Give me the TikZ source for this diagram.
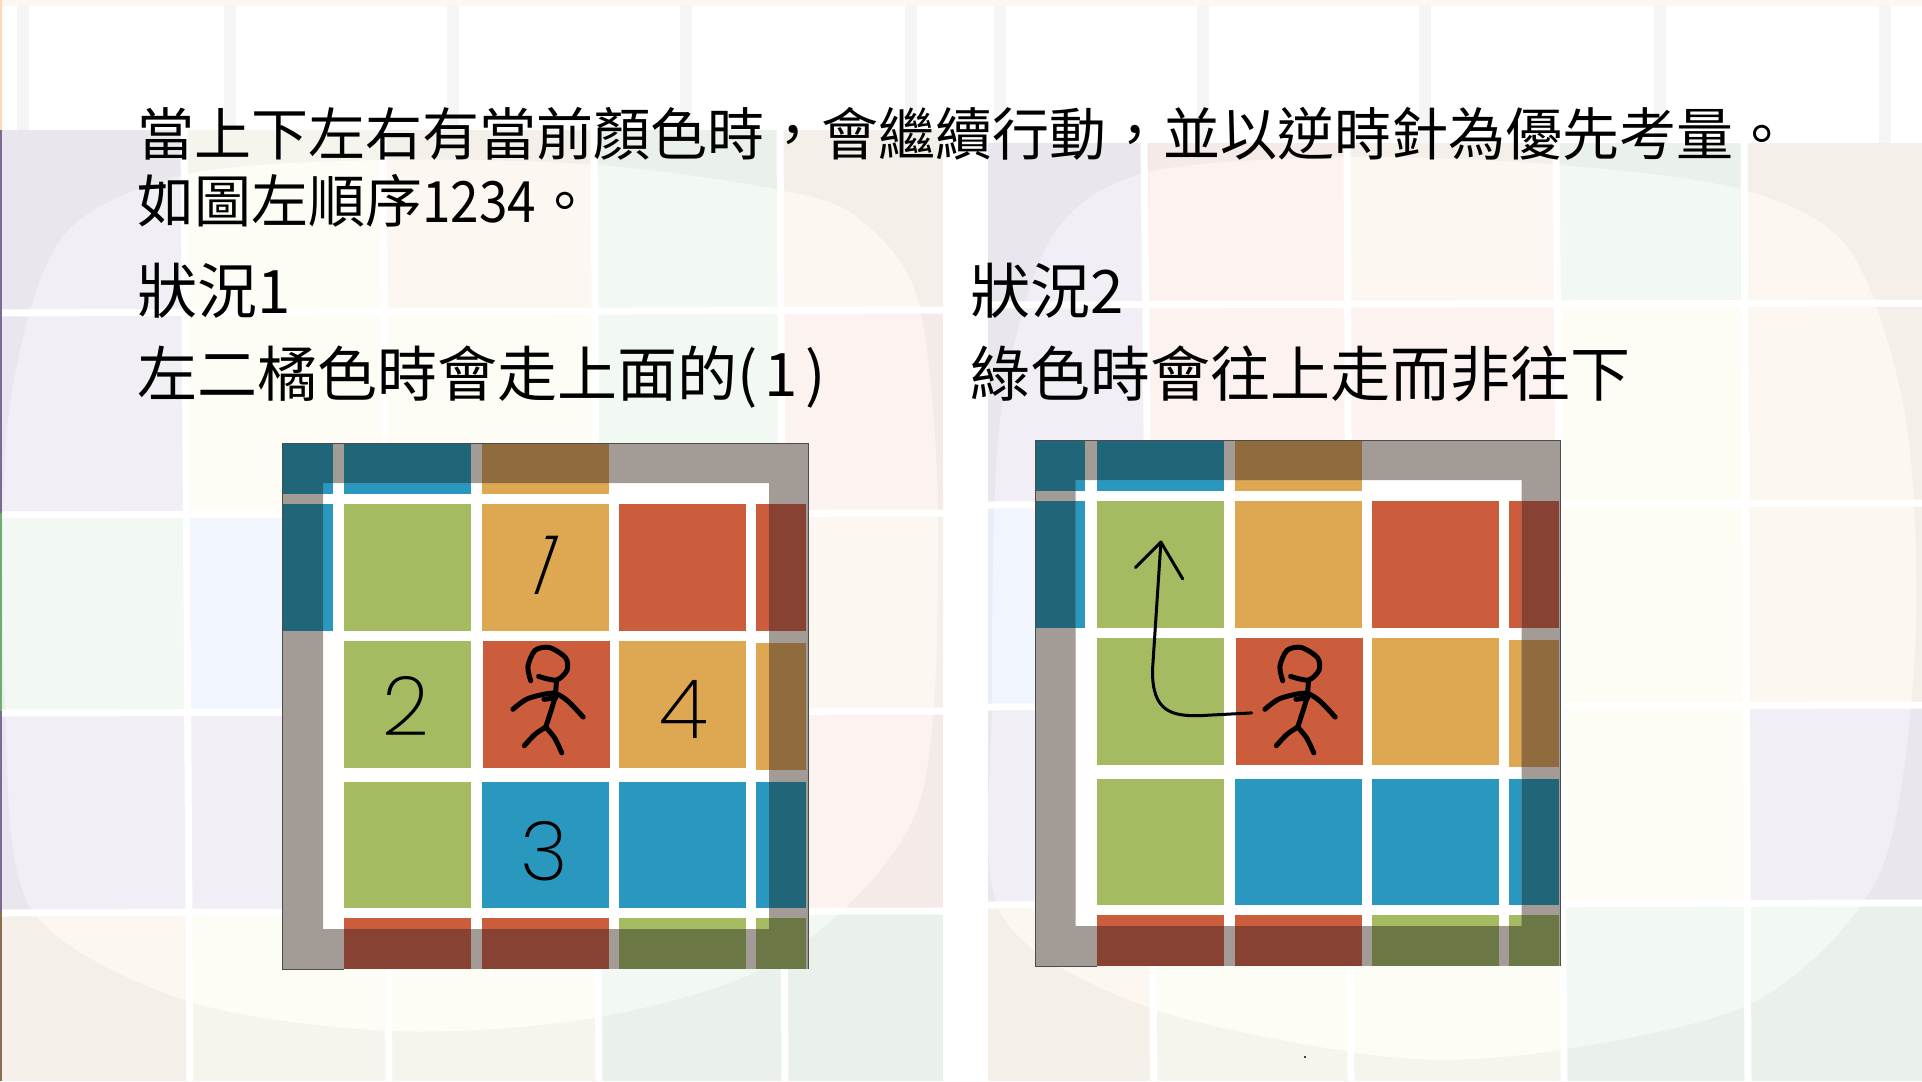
\documentclass[tikz,border=0pt]{standalone}
\usepackage{fontspec}
\setmainfont{Noto Sans CJK TC}
\newfontfamily\inkfont{Poppins ExtraLight}

\definecolor{lilac}{HTML}{F1EFF5}
\definecolor{cream}{HTML}{FDFDF5}
\definecolor{peach}{HTML}{FCF7F1}
\definecolor{mint}{HTML}{F2F8F2}
\definecolor{blush}{HTML}{FCF3F1}
\definecolor{skyish}{HTML}{F1F5FD}
\definecolor{cgreen}{HTML}{A4BB62}
\definecolor{corange}{HTML}{DEA853}
\definecolor{cred}{HTML}{CB5D3C}
\definecolor{cblue}{HTML}{2997BE}
\definecolor{cgreendk}{HTML}{6B7846}
\definecolor{corangedk}{HTML}{906B3E}
\definecolor{creddk}{HTML}{884233}
\definecolor{cbluedk}{HTML}{206678}
\definecolor{framegray}{HTML}{A39C96}
\definecolor{edgeviolet}{HTML}{7D6A94}
\definecolor{edgegreen}{HTML}{6DAE6E}
\definecolor{edgebrown}{HTML}{8C6E4E}

\tikzset{
    slideline/.style={anchor=base west,inner sep=0pt,font=\fontsize{57bp}{57bp}\selectfont},
    caseline/.style={anchor=base west,inner sep=0pt,font=\fontsize{60bp}{60bp}\selectfont},
    inkdigit/.style={inner sep=0pt,font=\fontsize{82bp}{82bp}\selectfont\inkfont},
    inkstroke/.style={line width=5bp,line cap=round,line join=round},
    inkarrow/.style={line width=3bp,line cap=round,line join=round},
    gapline/.style={white,line width=7bp}
}

\newcommand{\cellgrid}[1]{%
    \foreach \xa/\xb/\ya/\yb/\tone in {
        283/332.5/443/493.5/cblue,344/471/443/493.5/cblue,482/609/443/493.5/corange,
        283/332.5/504/631/cblue,344/471/504/631/cgreen,482/609/504/631/corange,
        619/746/504/631/cred,756/806/504/631/cred,
        344/471/641/767.5/cgreen,483/610/641/767.5/cred,619/746/641/767.5/corange,
        756/806/643/770/corange,
        344/471/781.5/907.5/cgreen,482/609/781.5/907.5/cblue,619/746/781.5/907.5/cblue,
        756/806/781.5/907.5/cblue,
        344/471/918/969/cred,482/609/918/969/cred,619/746/918/969/cgreen,
        756/806/918/969/cgreen}
    {\fill[fill=\tone#1] (\xa,\ya) rectangle (\xb,\yb);}
}

\newcommand{\colorboard}{%
    \fill[white] (282.5,443) rectangle (808,969);
    \cellgrid{}
    \begin{scope}[even odd rule]
        \clip (282.5,443) rectangle (808,969) (323,483) rectangle (769,929);
        \fill[framegray] (282.5,443) rectangle (808,969);
        \cellgrid{dk}
    \end{scope}
    \draw[black!70,line width=0.7bp] (808,443) -- (282.5,443) -- (282.5,969) -- (344,969);
    \draw[black!70,line width=0.7bp] (808,443) -- (808,969);
}

\newcommand{\stickman}{%
    \draw[inkstroke] plot[smooth] coordinates {(530.7,680.7) (527.9,666.4) (535,650.4) (549.3,647.5) (565.4,657.5) (567.1,670) (556.4,680) (538.6,676.4)};
    \draw[inkstroke] plot[smooth] coordinates {(556.4,680.7) (554.6,698.6) (545.7,727.1)};
    \draw[inkstroke] plot[smooth] coordinates {(512.9,709.3) (527.9,698.6) (552.9,693.2) (567.1,700.4) (583.2,717.1)};
    \draw[inkstroke] (543.9,699.3) -- (555.7,697.9);
    \draw[inkstroke] plot[smooth] coordinates {(524.3,745.7) (535,734.3) (545.7,727.1)};
    \draw[inkstroke] plot[smooth] coordinates {(545.7,727.1) (554.6,737.9) (561.8,752.9)};
}

\begin{document}
\begin{tikzpicture}[x=1bp,y=-1bp]
        \useasboundingbox (0,0) rectangle (1922,1081);
        \fill[white] (0,0) rectangle (1922,1081);

        % Left tiles
        \foreach \ya/\yb/\ca/\cb/\cc/\cd/\ce in {
            130/310/lilac/cream/peach/mint/peach,
            310/515/lilac/cream/cream/mint/blush,
            515/711/mint/skyish/cream/cream/peach,
            711/911/lilac/lilac/cream/cream/blush,
            911/1081/peach/cream/cream/mint/mint}
        {
            \fill[\ca] (0,\ya) rectangle (187,\yb);
            \fill[\cb] (187,\ya) rectangle (386,\yb);
            \fill[\cc] (386,\ya) rectangle (597,\yb);
            \fill[\cd] (597,\ya) rectangle (783,\yb);
            \fill[\ce] (783,\ya) rectangle (943,\yb);
        }
        \fill[black,opacity=0.03,even odd rule] (0,130) rectangle (943,1081)
            plot[smooth cycle] coordinates {(8,420) (60,240) (184,175) (380,160) (600,165) (780,190) (857,217) (918,300) (938,520) (918,807) (784,957) (600,1017) (392,1031) (184,1000) (30,907) (5,700)};
        % Right tiles
        \foreach \ya/\yb/\ca/\cb/\cc/\cd/\ce in {
            143/305/lilac/blush/peach/mint/peach,
            305/505/lilac/blush/blush/cream/peach,
            505/705/skyish/cream/cream/cream/peach,
            705/903/lilac/blush/cream/cream/lilac,
            903/1081/peach/cream/cream/mint/mint}
        {
            \fill[\ca] (988,\ya) rectangle (1149,\yb);
            \fill[\cb] (1149,\ya) rectangle (1349,\yb);
            \fill[\cc] (1349,\ya) rectangle (1560,\yb);
            \fill[\cd] (1560,\ya) rectangle (1746,\yb);
            \fill[\ce] (1746,\ya) rectangle (1922,\yb);
        }
        \fill[black,opacity=0.03,even odd rule] (988,143) rectangle (1922,1081)
            plot[smooth cycle] coordinates {(1000,420) (1050,240) (1144,173) (1350,157) (1560,165) (1744,190) (1850,250) (1906,420) (1915,650) (1880,873) (1758,1000) (1560,1050) (1390,1057) (1147,1007) (1000,912) (992,700)};

        % Gaps between the tiles
        \foreach \xa/\xb in {184/190,383/389,594/599,780/785}
            \draw[gapline] (\xa,130) -- (\xb,1081);
        \foreach \xa/\xb in {1144/1154,1347/1351,1556/1564,1744/1748}
            \draw[gapline] (\xa,143) -- (\xb,1081);
        \foreach \ya/\yb in {313/310,515/513,713/711,913/911}
            \draw[gapline] (0,\ya) -- (943,\yb);
        \foreach \ya/\yb in {305/303,505/503,707/705,905/903}
            \draw[gapline] (988,\ya) -- (1922,\yb);

        % Bars above the tiles
        \foreach \xa/\yb in {23/130,230/130,453/130,686/130,911/130,1000/143,1203/143,1425/143,1660/143,1885/143}
            \fill[black!4] (\xa-6,6) rectangle (\xa+6,\yb);
        \fill[peach] (0,0) rectangle (1922,6);

        % Edge of the slide
        \fill[orange!30] (0,0) rectangle (2,130);
        \fill[edgeviolet] (0,130) rectangle (2,513);
        \fill[edgegreen] (0,513) rectangle (2,711);
        \fill[edgeviolet] (0,711) rectangle (2,911);
        \fill[edgebrown] (0,911) rectangle (2,1081);

        % Text
        \node[slideline] (introline) at (137,155) {當上下左右有當前顏色時，會繼續行動，並以逆時針為優先考量。};
        \node[slideline] (orderline) at (137,222) {如圖左順序\scalebox{0.9}[1]{1234}。};
        \node[caseline] (caseone) at (137,313) {狀況1};
        \node[caseline] (caseonerule) at (137,396) {左二橘色時會走上面的(\hspace{0.12em}1\hspace{0.12em})};
        \node[caseline] (casetwo) at (970,313) {狀況2};
        \node[caseline] (casetworule) at (970,396) {綠色時會往上走而非往下};

        % Left board
        \colorboard
        \stickman
        \node[inkdigit,xslant=0.35] (digitone) at (545,565) {1};
        \node[inkdigit] (digittwo) at (406,706) {2};
        \node[inkdigit] (digitthree) at (544,851) {3};
        \node[inkdigit] (digitfour) at (684,709) {4};

        % Right board
        \begin{scope}[shift={(752.5,-3)}]
            \colorboard
        \end{scope}
        \begin{scope}[shift={(752,0)}]
            \stickman
        \end{scope}
        \draw[inkarrow] (1251.7,712.9) -- (1199,715.7)
            .. controls (1172,716) and (1152,712) .. (1152.5,670) -- (1160.9,542.1);
        \draw[inkarrow] (1135.4,567.5) -- (1160.9,542.1) -- (1182.7,578.9);

        \fill (1305,1057) circle (1.2);
        \end{tikzpicture}
\end{document}
